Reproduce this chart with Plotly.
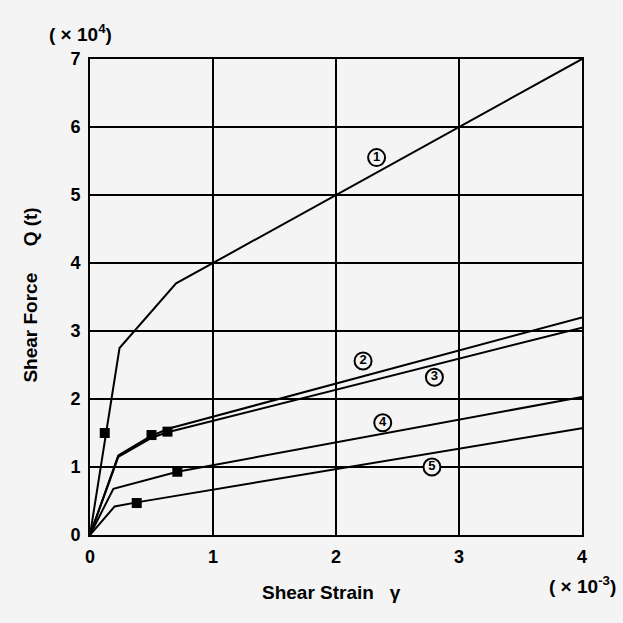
import plotly.graph_objects as go

# Data (strain in 1e-3, force in 1e4 t)
c1_x = [0, 0.24, 0.70, 4.0]
c1_y = [0, 2.75, 3.70, 7.0]
c2_x = [0, 0.23, 0.50, 0.65, 4.0]
c2_y = [0, 1.17, 1.46, 1.57, 3.20]
c3_x = [0, 0.23, 0.50, 0.63, 4.0]
c3_y = [0, 1.15, 1.43, 1.51, 3.05]
c4_x = [0, 0.19, 0.71, 4.0]
c4_y = [0, 0.68, 0.93, 2.03]
c5_x = [0, 0.20, 0.38, 4.0]
c5_y = [0, 0.42, 0.48, 1.57]
marker_x = [0.12, 0.50, 0.63, 0.71, 0.38]
marker_y = [1.50, 1.47, 1.52, 0.93, 0.47]
label_text = ["1", "2", "3", "4", "5"]
label_x = [2.33, 2.22, 2.80, 2.38, 2.78]
label_y = [5.55, 2.56, 2.32, 1.65, 1.00]
x_ticks = [0, 1, 2, 3, 4]
y_ticks = [0, 1, 2, 3, 4, 5, 6, 7]

FAM = "Liberation Sans, Arial, Helvetica"

fig = go.Figure()
for xs, ys in [(c1_x, c1_y), (c2_x, c2_y), (c3_x, c3_y), (c4_x, c4_y), (c5_x, c5_y)]:
    fig.add_trace(go.Scatter(x=xs, y=ys, mode="lines",
                             line=dict(color="black", width=2), showlegend=False,
                             cliponaxis=False))
fig.add_trace(go.Scatter(x=marker_x, y=marker_y, mode="markers",
                         marker=dict(symbol="square", size=10, color="black"),
                         showlegend=False))
fig.add_trace(go.Scatter(x=label_x, y=label_y, mode="markers+text", text=label_text,
                         textposition="middle center",
                         marker=dict(symbol="circle", size=17, color="#f4f4f4",
                                     line=dict(color="black", width=2)),
                         textfont=dict(family=FAM, size=13, color="black", weight="bold"),
                         showlegend=False))

fig.update_layout(
    width=623, height=623,
    margin=dict(l=90, r=41, t=59, b=88),
    paper_bgcolor="#f4f4f4", plot_bgcolor="#f4f4f4",
    font=dict(family=FAM, size=17, color="black"),
    xaxis=dict(range=[0, 4], tickvals=x_ticks, showgrid=True, gridcolor="black",
               gridwidth=2, showline=True, linecolor="black", linewidth=2, mirror=True,
               zeroline=False, ticks="", ticklabelstandoff=4,
               tickfont=dict(family=FAM, size=18, color="black", weight="bold")),
    yaxis=dict(range=[0, 7], tickvals=y_ticks, showgrid=True, gridcolor="black",
               gridwidth=2, showline=True, linecolor="black", linewidth=2, mirror=True,
               zeroline=False, ticks="", ticklabelstandoff=4,
               tickfont=dict(family=FAM, size=18, color="black", weight="bold")),
    annotations=[
        dict(text="( × 10<sup>4</sup>)", xref="paper", yref="paper", x=-0.02, y=1.055,
             showarrow=False, font=dict(family=FAM, size=19, color="black", weight="bold"),
             xanchor="center", yanchor="middle"),
        dict(text="( × 10<sup>-3</sup>)", xref="paper", yref="paper", x=1.0, y=-0.105,
             showarrow=False, font=dict(family=FAM, size=19, color="black", weight="bold"),
             xanchor="center", yanchor="middle"),
        dict(text="Shear Strain   γ", xref="paper", yref="paper", x=0.49, y=-0.12,
             showarrow=False, font=dict(family=FAM, size=19, color="black", weight="bold"),
             xanchor="center", yanchor="middle"),
        dict(text="Shear Force     Q (t)", xref="paper", yref="paper", x=-0.12, y=0.505,
             textangle=-90, showarrow=False,
             font=dict(family=FAM, size=19, color="black", weight="bold"),
             xanchor="center", yanchor="middle"),
    ],
)
fig.write_html("out.html")
